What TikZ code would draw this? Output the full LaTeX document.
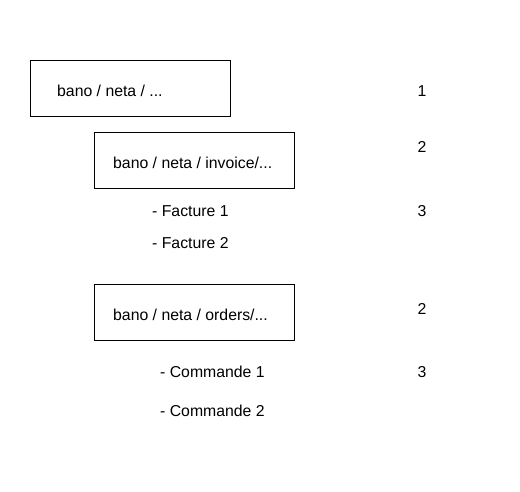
\documentclass[tikz,border=0pt]{standalone}
\usepackage{fontspec}
\setmainfont{Liberation Sans}
\begin{document}
\begin{tikzpicture}[x=1pt,y=-1pt,
  lbl/.style={anchor=base west,inner sep=0pt,font=\fontsize{15.8}{18}\selectfont},
  pathbox/.style={draw=black,line width=1pt,fill=none}]
\useasboundingbox[fill=white] (0,0) rectangle (520,492);
% boxes
\draw[pathbox] (30.5,60.5) rectangle (230.5,116.5);
\draw[pathbox] (94.5,132.5) rectangle (294.5,188.5);
\draw[pathbox] (94.5,284.5) rectangle (294.5,340.5);
% box texts
\node[lbl] (t1) at (57,97) {bano / neta / ...};
\node[lbl] (t2) at (113,169) {bano / neta / invoice/...};
\node[lbl] (t3) at (113,320) {bano / neta / orders/...};
% items
\node[lbl] (f1) at (152,217) {- Facture 1};
\node[lbl] (f2) at (152,248) {- Facture 2};
\node[lbl] (c1) at (160,377) {- Commande 1};
\node[lbl] (c2) at (160,416) {- Commande 2};
% levels
\node[lbl] (n1) at (417.5,97) {1};
\node[lbl] (n2) at (417.5,153) {2};
\node[lbl] (n3) at (417.5,217) {3};
\node[lbl] (n4) at (417.5,314) {2};
\node[lbl] (n5) at (417.5,377) {3};
\end{tikzpicture}
\end{document}
